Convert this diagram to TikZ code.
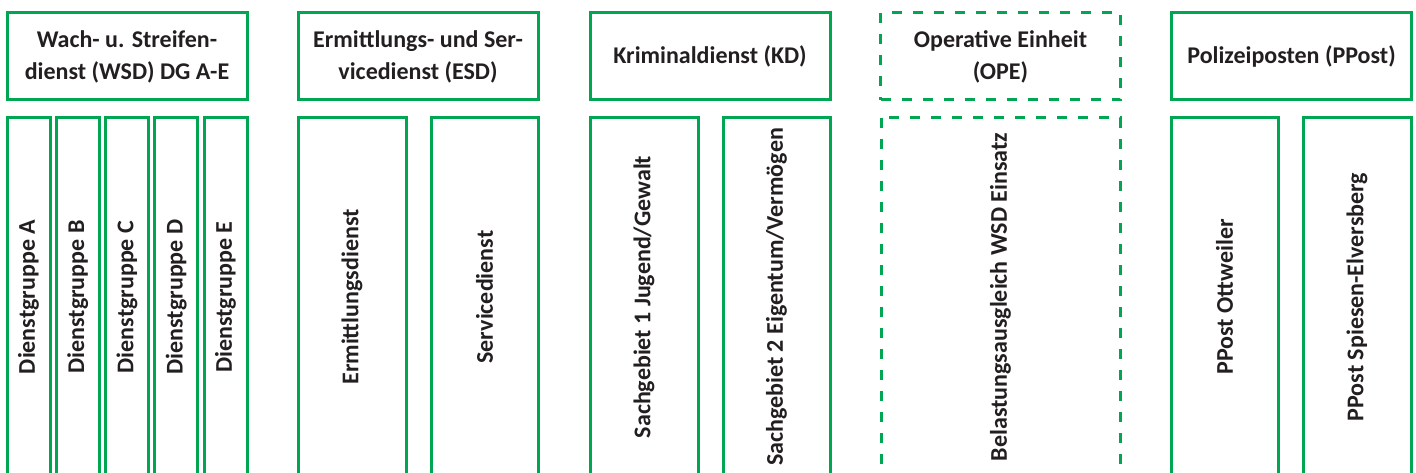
\documentclass[tikz,border=0pt]{standalone}
\usepackage{fontspec}
\setmainfont{Carlito}
\definecolor{gruen}{RGB}{0,166,81}
\definecolor{schrift}{RGB}{35,31,32}

\begin{document}
\begin{tikzpicture}[x=1pt,y=-1pt,
  kasten/.style={draw=gruen, line width=3pt, text=schrift, inner sep=0pt,
    font=\fontsize{24}{32}\selectfont\bfseries, align=center},
  kopf/.style={kasten, minimum width=240pt, minimum height=87pt},
  spalte/.style={kasten, rotate=90, minimum width=358pt},
  gestrichelt/.style={dash pattern=on 10pt off 11pt}]
  \useasboundingbox (0,0) rectangle (1416,473);
  \clip (0,0) rectangle (1416,473);

  % obere reihe
  \node[kopf] (wsd) at (127,56.5) {Wach- u. Streifen-\\dienst (WSD) DG A-E};
  \node[kopf] (esd) at (418,56.5) {Ermittlungs- und Ser-\\vicedienst (ESD)};
  \node[kopf] (kd) at (710,56.5) {Kriminaldienst (KD)};
  \node[kopf, gestrichelt] (ope) at (1000.5,56.5) {Operative Einheit\\(OPE)};
  \node[kopf] (ppost) at (1291.5,56.5) {Polizeiposten (PPost)};

  % dienstgruppen
  \foreach \g [count=\i from 0] in {A,B,C,D,E}
    \node[spalte, minimum height=43pt] (dg\g) at ({28.5+49.25*\i},297) {Dienstgruppe \g};

  % esd
  \node[spalte, minimum height=108pt] (ermittlung) at (352,297) {Ermittlungsdienst};
  \node[spalte, minimum height=107pt] (service) at (484.5,297) {Servicedienst};

  % kd
  \node[spalte, minimum height=108pt] (sg1) at (644,297) {Sachgebiet 1 Jugend/Gewalt};
  \node[spalte, minimum height=107pt] (sg2) at (776.5,297) {Sachgebiet 2 Eigentum/Vermögen};

  % ope
  \node[spalte, gestrichelt, minimum height=239pt] (ausgleich) at (1000.5,297) {Belastungsausgleich WSD Einsatz};

  % ppost
  \node[spalte, minimum height=107pt] (ottweiler) at (1224.5,297) {PPost Ottweiler};
  \node[spalte, minimum height=108pt] (spiesen) at (1357,297) {PPost Spiesen-Elversberg};
\end{tikzpicture}
\end{document}
